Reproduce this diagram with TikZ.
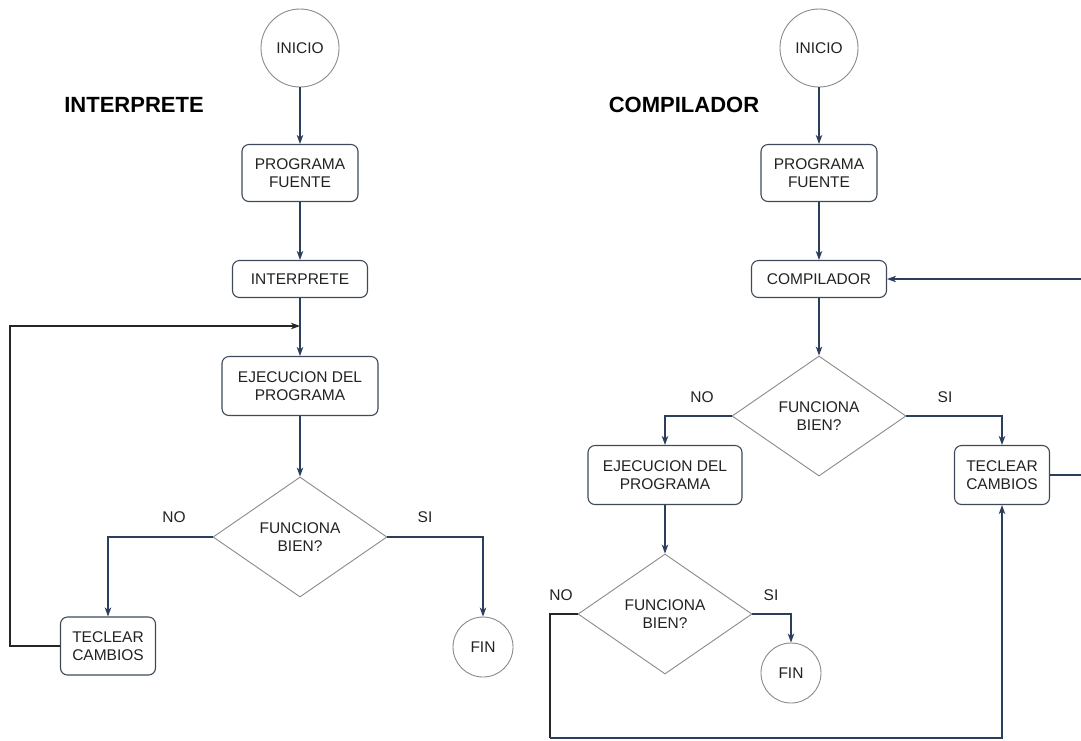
\documentclass[tikz,border=0pt]{standalone}
\usepackage{fontspec}
\setmainfont{Liberation Sans}
\usetikzlibrary{shapes.geometric,arrows.meta}
\definecolor{navy}{HTML}{2B3F5C}
\definecolor{boxc}{HTML}{3E4A5A}
\definecolor{shapec}{HTML}{8A8A8A}
\definecolor{txt}{HTML}{222222}
\tikzset{
  base/.style={font=\fontsize{15.5}{18.3}\selectfont, text=txt, align=center, inner sep=0pt},
  procbox/.style={base, draw=boxc, line width=1.1pt, rounded corners=7pt},
  term/.style={base, circle, draw=shapec, line width=0.9pt},
  decis/.style={base, diamond, draw=shapec, line width=0.9pt, minimum width=174pt, minimum height=120pt},
  lbl/.style={base},
  heading/.style={font=\fontsize{22}{26}\selectfont\bfseries, text=black, inner sep=0pt},
  flow/.style={draw=navy, line width=1.2pt, -{Stealth[length=9pt,width=6.5pt,inset=2.5pt]}},
  loopline/.style={draw=black!85, line width=1.2pt},
  loopar/.style={loopline, -{Stealth[length=9pt,width=6.5pt,inset=2.5pt]}}
}
\begin{document}
\begin{tikzpicture}[x=1pt,y=-1pt]
\useasboundingbox (0,0) rectangle (1081,740);
% ---------------- INTERPRETE ----------------
\node[heading] (hL) at (134,105) {INTERPRETE};
\node[term, minimum size=78pt] (iniL) at (300,48) {INICIO};
\node[procbox, minimum width=116pt, minimum height=57pt] (pfL) at (300,173) {PROGRAMA\\FUENTE};
\node[procbox, minimum width=135pt, minimum height=37pt] (intL) at (300,279) {INTERPRETE};
\node[procbox, minimum width=156pt, minimum height=59pt] (ejL) at (300,386) {EJECUCION DEL\\PROGRAMA};
\node[decis] (dL) at (300,537) {FUNCIONA\\BIEN?};
\node[procbox, minimum width=95pt, minimum height=58pt] (tcL) at (108,646) {TECLEAR\\CAMBIOS};
\node[term, minimum size=60pt] (finL) at (483,647) {FIN};
\node[lbl] (noL) at (174,517) {NO};
\node[lbl] (siL) at (425,517) {SI};
\coordinate (jL) at (300,326);
\coordinate (cL) at (10,646);

\draw[flow] (iniL) -- (pfL);
\draw[flow] (pfL) -- (intL);
\draw[flow] (intL) -- (ejL);
\draw[flow] (ejL) -- (dL.north);
\draw[flow] (dL.west) -| (tcL.north);
\draw[flow] (dL.east) -| (finL.north);
\draw[loopar] (tcL.west) -- (cL) |- (jL);

% ---------------- COMPILADOR ----------------
\node[heading] (hR) at (684,105) {COMPILADOR};
\node[term, minimum size=78pt] (iniR) at (819,48) {INICIO};
\node[procbox, minimum width=116pt, minimum height=57pt] (pfR) at (819,173) {PROGRAMA\\FUENTE};
\node[procbox, minimum width=135pt, minimum height=37pt] (compR) at (819,279) {COMPILADOR};
\node[decis] (dR) at (819,416) {FUNCIONA\\BIEN?};
\node[procbox, minimum width=154pt, minimum height=59pt] (ejR) at (665,475) {EJECUCION DEL\\PROGRAMA};
\node[procbox, minimum width=95pt, minimum height=59pt] (tcR) at (1002,475) {TECLEAR\\CAMBIOS};
\node[decis] (dR2) at (665,614) {FUNCIONA\\BIEN?};
\node[term, minimum size=60pt] (finR) at (791,673) {FIN};
\node[lbl] (noR) at (702,397) {NO};
\node[lbl] (siR) at (945,397) {SI};
\node[lbl] (noR2) at (561,595) {NO};
\node[lbl] (siR2) at (771,595) {SI};
\coordinate (bR) at (550,738);
\coordinate (eR1) at (1081,475);
\coordinate (eR2) at (1081,279);

\draw[flow] (iniR) -- (pfR);
\draw[flow] (pfR) -- (compR);
\draw[flow] (compR) -- (dR.north);
\draw[flow] (dR.west) -| (ejR.north);
\draw[flow] (dR.east) -| (tcR.north);
\draw[flow] (ejR) -- (dR2.north);
\draw[flow] (dR2.east) -| (finR.north);
\draw[loopline] (dR2.west) -| (bR);
\draw[flow] (bR) -| (tcR.south);
\draw[draw=navy, line width=1.2pt] (tcR.east) -- (eR1);
\draw[flow] (eR2) -- (compR.east);
\end{tikzpicture}
\end{document}
